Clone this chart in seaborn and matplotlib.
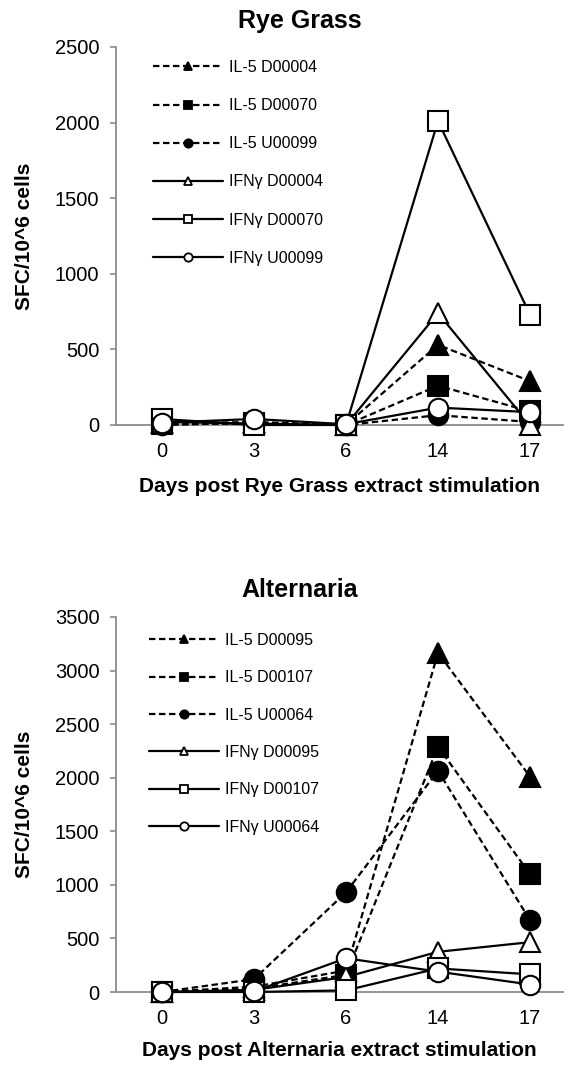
import numpy as np
import pandas as pd
import matplotlib
matplotlib.use("Agg")
import matplotlib.pyplot as plt
import seaborn as sns

# ---------------- data ----------------
days = ["0", "3", "6", "14", "17"]

rye_labels = ["IL-5 D00004", "IL-5 D00070", "IL-5 U00099",
              "IFNγ D00004", "IFNγ D00070", "IFNγ U00099"]
rye_il5_d00004 = [10, 20, 0, 530, 290]
rye_il5_d00070 = [5, 10, 0, 260, 90]
rye_il5_u00099 = [0, 15, 0, 65, 20]
rye_ifng_d00004 = [20, 10, 0, 740, 0]
rye_ifng_d00070 = [40, 0, 0, 2010, 730]
rye_ifng_u00099 = [15, 40, 5, 115, 85]

alt_labels = ["IL-5 D00095", "IL-5 D00107", "IL-5 U00064",
              "IFNγ D00095", "IFNγ D00107", "IFNγ U00064"]
alt_il5_d00095 = [0, 50, 200, 3165, 2010]
alt_il5_d00107 = [0, 30, 160, 2290, 1100]
alt_il5_u00064 = [0, 120, 930, 2065, 670]
alt_ifng_d00095 = [0, 20, 140, 375, 465]
alt_ifng_d00107 = [0, 0, 15, 220, 165]
alt_ifng_u00064 = [0, 5, 315, 190, 70]

rye_yticks = [0, 500, 1000, 1500, 2000, 2500]
alt_yticks = [0, 500, 1000, 1500, 2000, 2500, 3000, 3500]

# ---------------- style ----------------
sns.set_theme(style="white")
plt.rcParams["font.family"] = ["Liberation Sans", "DejaVu Sans"]
plt.rcParams["text.color"] = "black"
plt.rcParams["axes.labelcolor"] = "black"
plt.rcParams["xtick.color"] = "black"
plt.rcParams["ytick.color"] = "black"

markers = ["^", "s", "o", "^", "s", "o"]
filled = [True, True, True, False, False, False]
dashed = [True, True, True, False, False, False]
msizes = [15, 14, 14, 15, 14, 14]

W, H = 564, 1067
fig = plt.figure(figsize=(W / 100, H / 100), dpi=100)

GRAY = "#8c8c8c"


def panel(ax_rect, series, labels, yticks, ylim, title, title_y, xlabel,
          leg_anchor, spacing):
    ax = fig.add_axes(ax_rect)
    for vals, lab, m, f, d, ms in zip(series, labels, markers, filled, dashed, msizes):
        df = pd.DataFrame({"day": days, "sfc": vals})
        sns.lineplot(data=df, x="day", y="sfc", ax=ax, sort=False,
                     color="black", linewidth=1.6,
                     linestyle=(0, (2.9, 1.6)) if d else "-",
                     marker=m, markersize=ms,
                     markerfacecolor="black" if f else "white",
                     markeredgecolor="black", markeredgewidth=1.5,
                     label=lab, clip_on=False, zorder=3)
    ax.set_xlim(-0.5, (563 - 162) / 92)
    ax.set_ylim(*ylim)
    ax.set_yticks(yticks)
    ax.set_yticklabels([str(t) for t in yticks])
    sns.despine(ax=ax)
    for s in ["left", "bottom"]:
        ax.spines[s].set_color(GRAY)
        ax.spines[s].set_linewidth(1.3)
    ax.tick_params(axis="y", which="major", left=True, length=4, width=1.2,
                   color=GRAY, pad=8, labelsize=14.5, labelcolor="black")
    ax.tick_params(axis="x", length=0, pad=12, labelsize=14.5, labelcolor="black")
    ax.set_xlabel(xlabel, fontsize=15, fontweight="bold", va="center")
    ax.set_ylabel("SFC/10^6 cells", fontsize=15, fontweight="bold", va="center")
    ax.grid(False)
    fig.text(300 / W, title_y, title, ha="center", va="center",
             fontsize=18, fontweight="bold")
    leg = ax.legend(loc="upper left", bbox_to_anchor=leg_anchor, frameon=False,
                    fontsize=11.5, handlelength=4.4, handletextpad=0.35,
                    labelspacing=spacing, borderaxespad=0, borderpad=0)
    for h in leg.legend_handles:
        h.set_markersize(6)
        h.set_markeredgewidth(1.3)
        h.set_linewidth(1.6)
    return ax


ax1 = panel([116 / W, 1 - 425 / H, (563 - 116) / W, 378 / H],
            [rye_il5_d00004, rye_il5_d00070, rye_il5_u00099,
             rye_ifng_d00004, rye_ifng_d00070, rye_ifng_u00099],
            rye_labels, rye_yticks, (0, 2500), "Rye Grass", 1 - 21 / H,
            "Days post Rye Grass extract stimulation",
            ((153 - 116) / 447, (425 - 60) / 378), 1.45)
ax1.xaxis.set_label_coords(0.5, (425 - 487) / 378)
ax1.yaxis.set_label_coords((25 - 116) / 447, 0.5)

ax2 = panel([116 / W, 1 - 992 / H, (563 - 116) / W, 375 / H],
            [alt_il5_d00095, alt_il5_d00107, alt_il5_u00064,
             alt_ifng_d00095, alt_ifng_d00107, alt_ifng_u00064],
            alt_labels, alt_yticks, (0, 3500), "Alternaria", 1 - 590 / H,
            "Days post Alternaria extract stimulation",
            ((149 - 116) / 447, (992 - 633) / 375), 1.4)
ax2.xaxis.set_label_coords(0.5, (992 - 1050) / 375)
ax2.yaxis.set_label_coords((25 - 116) / 447, 0.5)

fig.savefig("out.png", dpi=100)
